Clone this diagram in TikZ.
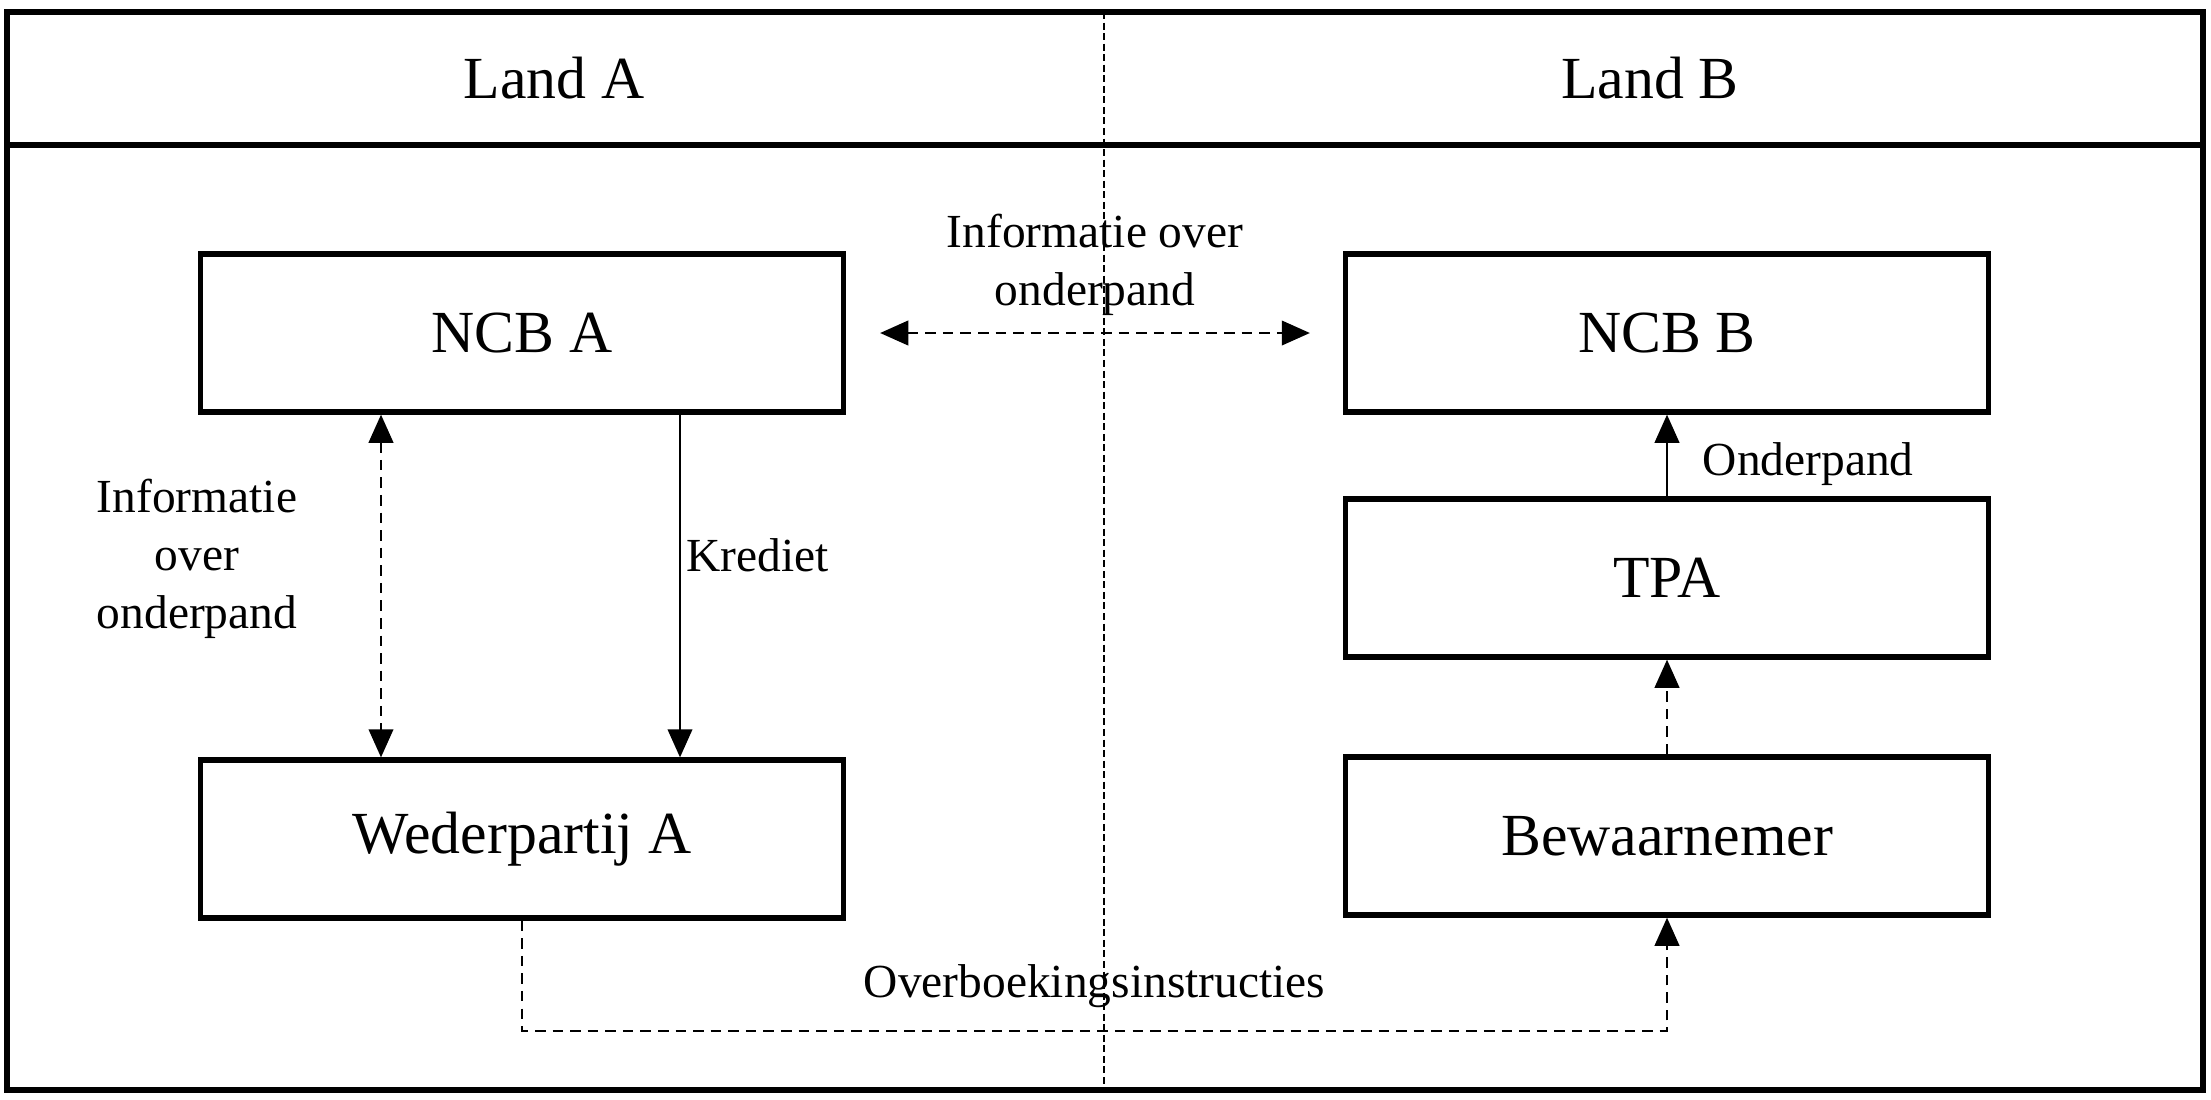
\documentclass[tikz,border=0pt]{standalone}
\usepackage{fontspec}
\setmainfont{Liberation Serif}
\usepackage{tikz}
\usetikzlibrary{calc,positioning,arrows.meta}

\newcommand{\boxfont}{\fontsize{17}{20}\selectfont}
\newcommand{\lblfont}{\fontsize{13.5}{16.5}\selectfont}

\begin{document}
\begin{tikzpicture}[
    orgbox/.style={draw, line width=1.5pt, rectangle, minimum width=6.43cm, minimum height=1.58cm, font=\boxfont},
    lbl/.style={font=\lblfont, align=center},
    flow/.style={line width=0.6pt, -{Triangle[length=8pt,width=7pt]}},
    infoflow/.style={line width=0.6pt, dash pattern=on 3pt off 2pt, -{Triangle[length=8pt,width=7pt]}},
    infoboth/.style={infoflow, {Triangle[length=8pt,width=7pt]}-{Triangle[length=8pt,width=7pt]}}
  ]
  \useasboundingbox (0,0) rectangle (22.11,-10.99);

  % Frame with header
  \draw[line width=1.5pt] (0.07,-0.12) rectangle (22.03,-10.90);
  \draw[line width=1.5pt] (0.07,-1.45) -- (22.03,-1.45);
  \node[font=\boxfont] (landA) at (5.54,-0.78) {Land A};
  \node[font=\boxfont] (landB) at (16.50,-0.78) {Land B};

  % Boxes
  \node[orgbox] (ncbA) at (5.22,-3.33) {NCB A};
  \node[orgbox] (wedA) at (5.22,-8.39) {Wederpartij A};
  \node[orgbox] (ncbB) at (16.67,-3.33) {NCB B};
  \node[orgbox] (tpa) at (16.67,-5.78) {TPA};
  \node[orgbox] (bewaar) at (16.67,-8.36) {Bewaarnemer};

  % Land A
  \draw[infoboth] ([xshift=-1.41cm]ncbA.south) -- ([xshift=-1.41cm]wedA.north);
  \node[lbl] (infoA) at (1.97,-5.59) {Informatie\\over\\onderpand};
  \draw[flow] ([xshift=1.58cm]ncbA.south) -- ([xshift=1.58cm]wedA.north)
    node[pos=0.41, right=0pt, inner sep=1.5pt, font=\lblfont] (krediet) {Krediet};

  % Between the two NCBs
  \draw[infoboth] ([xshift=3.4mm]ncbA.east) -- ([xshift=-3.3mm]ncbB.west)
    node[midway, above=0.5mm, lbl] (infoAB) {Informatie over\\onderpand};

  % Land B
  \draw[flow] (tpa.north) -- (ncbB.south) node[pos=0.40, right=2.3mm, font=\lblfont] (onderpand) {Onderpand};
  \draw[infoflow] (bewaar.north) -- (tpa.south);

  % Overboekingsinstructies
  \draw[infoflow] (wedA.south) -- ++(0,-1.10) -| (bewaar.south)
    node[pos=0.25, above=1mm, font=\lblfont] (overb) {Overboekingsinstructies};

  % Border between the countries
  \draw[line width=0.8pt, dash pattern=on 2pt off 1pt] (11.04,-0.12) -- (11.04,-10.90);
\end{tikzpicture}
\end{document}
